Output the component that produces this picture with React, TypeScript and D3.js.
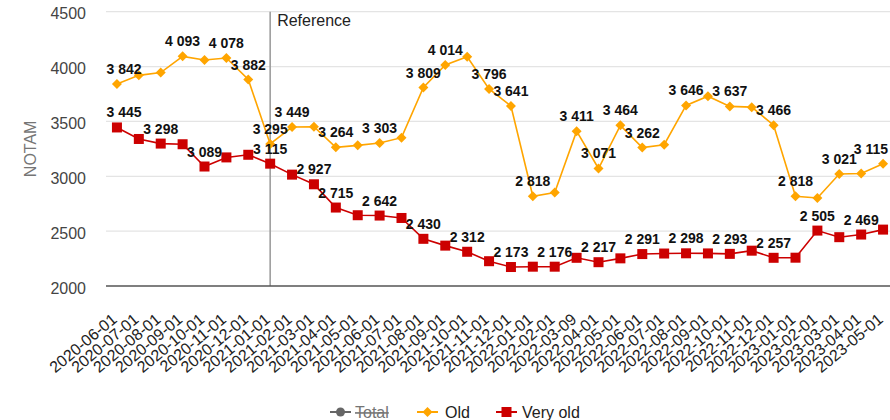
import React from 'react';
import * as d3 from 'd3';

const categories = [
  '2020-06-01', '2020-07-01', '2020-08-01', '2020-09-01', '2020-10-01', '2020-11-01', '2020-12-01',
  '2021-01-01', '2021-02-01', '2021-03-01', '2021-04-01', '2021-05-01', '2021-06-01', '2021-07-01',
  '2021-08-01', '2021-09-01', '2021-10-01', '2021-11-01', '2021-12-01', '2022-01-01', '2022-02-01',
  '2022-03-09', '2022-04-01', '2022-05-01', '2022-06-01', '2022-07-01', '2022-08-01', '2022-09-01',
  '2022-10-01', '2022-11-01', '2022-12-01', '2023-01-01', '2023-02-01', '2023-03-01', '2023-04-01',
  '2023-05-01',
];

const oldValues = [
  3842, 3920, 3945, 4093, 4060, 4078, 3882,
  3295, 3449, 3452, 3264, 3282, 3303, 3352,
  3809, 4014, 4090, 3796, 3641, 2818, 2852,
  3411, 3071, 3464, 3262, 3288, 3646, 3730,
  3637, 3630, 3466, 2818, 2802, 3021, 3025,
  3115,
];

const veryOldValues = [
  3445, 3340, 3298, 3292, 3089, 3172, 3196,
  3115, 3015, 2927, 2715, 2645, 2642, 2620,
  2430, 2368, 2312, 2226, 2173, 2176, 2176,
  2257, 2217, 2252, 2291, 2296, 2298, 2297,
  2293, 2322, 2257, 2258, 2505, 2445, 2469,
  2514,
];

// which points carry a value label
const oldLabelIdx = [0, 3, 5, 6, 7, 8, 10, 12, 14, 15, 17, 18, 19, 21, 22, 23, 24, 26, 28, 30, 31, 33, 35];
const veryOldLabelIdx = [0, 2, 4, 7, 9, 10, 12, 14, 16, 18, 20, 22, 24, 26, 28, 30, 32, 34];

const yTicks = [2000, 2500, 3000, 3500, 4000, 4500];
const referenceDate = '2021-01-01';
const legendItems = ['Total', 'Old', 'Very old'];

const ORANGE = '#ffa500';
const RED = '#cc0000';
const GRAY = '#666666';

const fmt = d3.formatLocale({ decimal: '.', thousands: ' ', grouping: [3], currency: ['', ''] }).format(',');

function Diamond({ x, y, r, fill }) {
  return <path d={`M${x},${y - r}L${x + r},${y}L${x},${y + r}L${x - r},${y}Z`} fill={fill} />;
}

export default function App() {
  const width = 890;
  const height = 420;
  const left = 106;
  const right = 894;
  const top = 11.7;
  const bottom = 286;

  const x = d3.scalePoint().domain(categories).range([left, right]).padding(0.5);
  const y = d3.scaleLinear().domain([2000, 4500]).range([bottom, top]);

  const line = d3.line<number>()
    .x((d, i) => x(categories[i]))
    .y(d => y(d));

  // keep labels inside the svg
  const labelX = (i) => Math.min(Math.max(x(categories[i]), left + 18), width - 19);
  const refX = x(referenceDate);

  const font = 'Arial, "Liberation Sans", sans-serif';

  return (
    <div>
      <style>{'body{margin:0}'}</style>
      <svg width={width} height={height} style={{ display: 'block', fontFamily: font }}>
        {/* grid */}
        {yTicks.map(t => (
          <g key={t}>
            {t !== 2000 && (
              <line x1={left} x2={right} y1={y(t)} y2={y(t)} stroke="#e4e4e4" strokeWidth={1.3} />
            )}
            <text x={86} y={y(t) + 2} dy="0.35em" textAnchor="end" fontSize={16} fill="#444">{t}</text>
          </g>
        ))}
        <text
          transform={`translate(36,${(top + bottom) / 2}) rotate(-90)`}
          textAnchor="middle"
          fontSize={16}
          fill="#757575"
        >NOTAM</text>

        {/* reference line */}
        <line x1={refX} x2={refX} y1={top} y2={bottom} stroke="#9e9e9e" strokeWidth={1.6} />
        <text x={refX + 7} y={26} fontSize={16} fill="#222">Reference</text>

        <line x1={left} x2={right} y1={bottom} y2={bottom} stroke="#555" strokeWidth={1.4} />

        {/* x labels */}
        {categories.map(c => (
          <text
            key={c}
            transform={`translate(${x(c) + 1},${bottom + 35}) rotate(-40)`}
            textAnchor="end"
            fontSize={16}
            fill="#222"
          >{c}</text>
        ))}

        {/* series */}
        <path d={line(oldValues)} fill="none" stroke={ORANGE} strokeWidth={1.6} />
        {oldValues.map((v, i) => (
          <Diamond key={i} x={x(categories[i])} y={y(v)} r={5} fill={ORANGE} />
        ))}
        <path d={line(veryOldValues)} fill="none" stroke={RED} strokeWidth={1.6} />
        {veryOldValues.map((v, i) => (
          <rect key={i} x={x(categories[i]) - 5} y={y(v) - 5} width={10} height={10} fill={RED} />
        ))}

        {/* value labels */}
        {oldLabelIdx.map(i => (
          <text key={'o' + i} x={labelX(i)} y={y(oldValues[i]) - 10} textAnchor="middle"
            fontSize={14} fontWeight="bold" fill="#111">{fmt(oldValues[i])}</text>
        ))}
        {veryOldLabelIdx.map(i => (
          <text key={'v' + i} x={labelX(i)} y={y(veryOldValues[i]) - 10} textAnchor="middle"
            fontSize={14} fontWeight="bold" fill="#111">{fmt(veryOldValues[i])}</text>
        ))}

        {/* legend */}
        <g transform="translate(330,412)">
          <line x1={0} x2={21} y1={0} y2={0} stroke={GRAY} strokeWidth={2} />
          <circle cx={10.5} cy={0} r={4.5} fill={GRAY} />
          <text x={25} y={0} dy="0.35em" fontSize={16} fill="#757575" textDecoration="line-through">{legendItems[0]}</text>

          <line x1={87} x2={108} y1={0} y2={0} stroke={ORANGE} strokeWidth={2} />
          <Diamond x={97.5} y={0} r={5} fill={ORANGE} />
          <text x={115} y={0} dy="0.35em" fontSize={16} fill="#222">{legendItems[1]}</text>

          <line x1={166} x2={187} y1={0} y2={0} stroke={RED} strokeWidth={2} />
          <rect x={171.5} y={-5} width={10} height={10} fill={RED} />
          <text x={192} y={0} dy="0.35em" fontSize={16} fill="#222">{legendItems[2]}</text>
        </g>
      </svg>
    </div>
  );
}
